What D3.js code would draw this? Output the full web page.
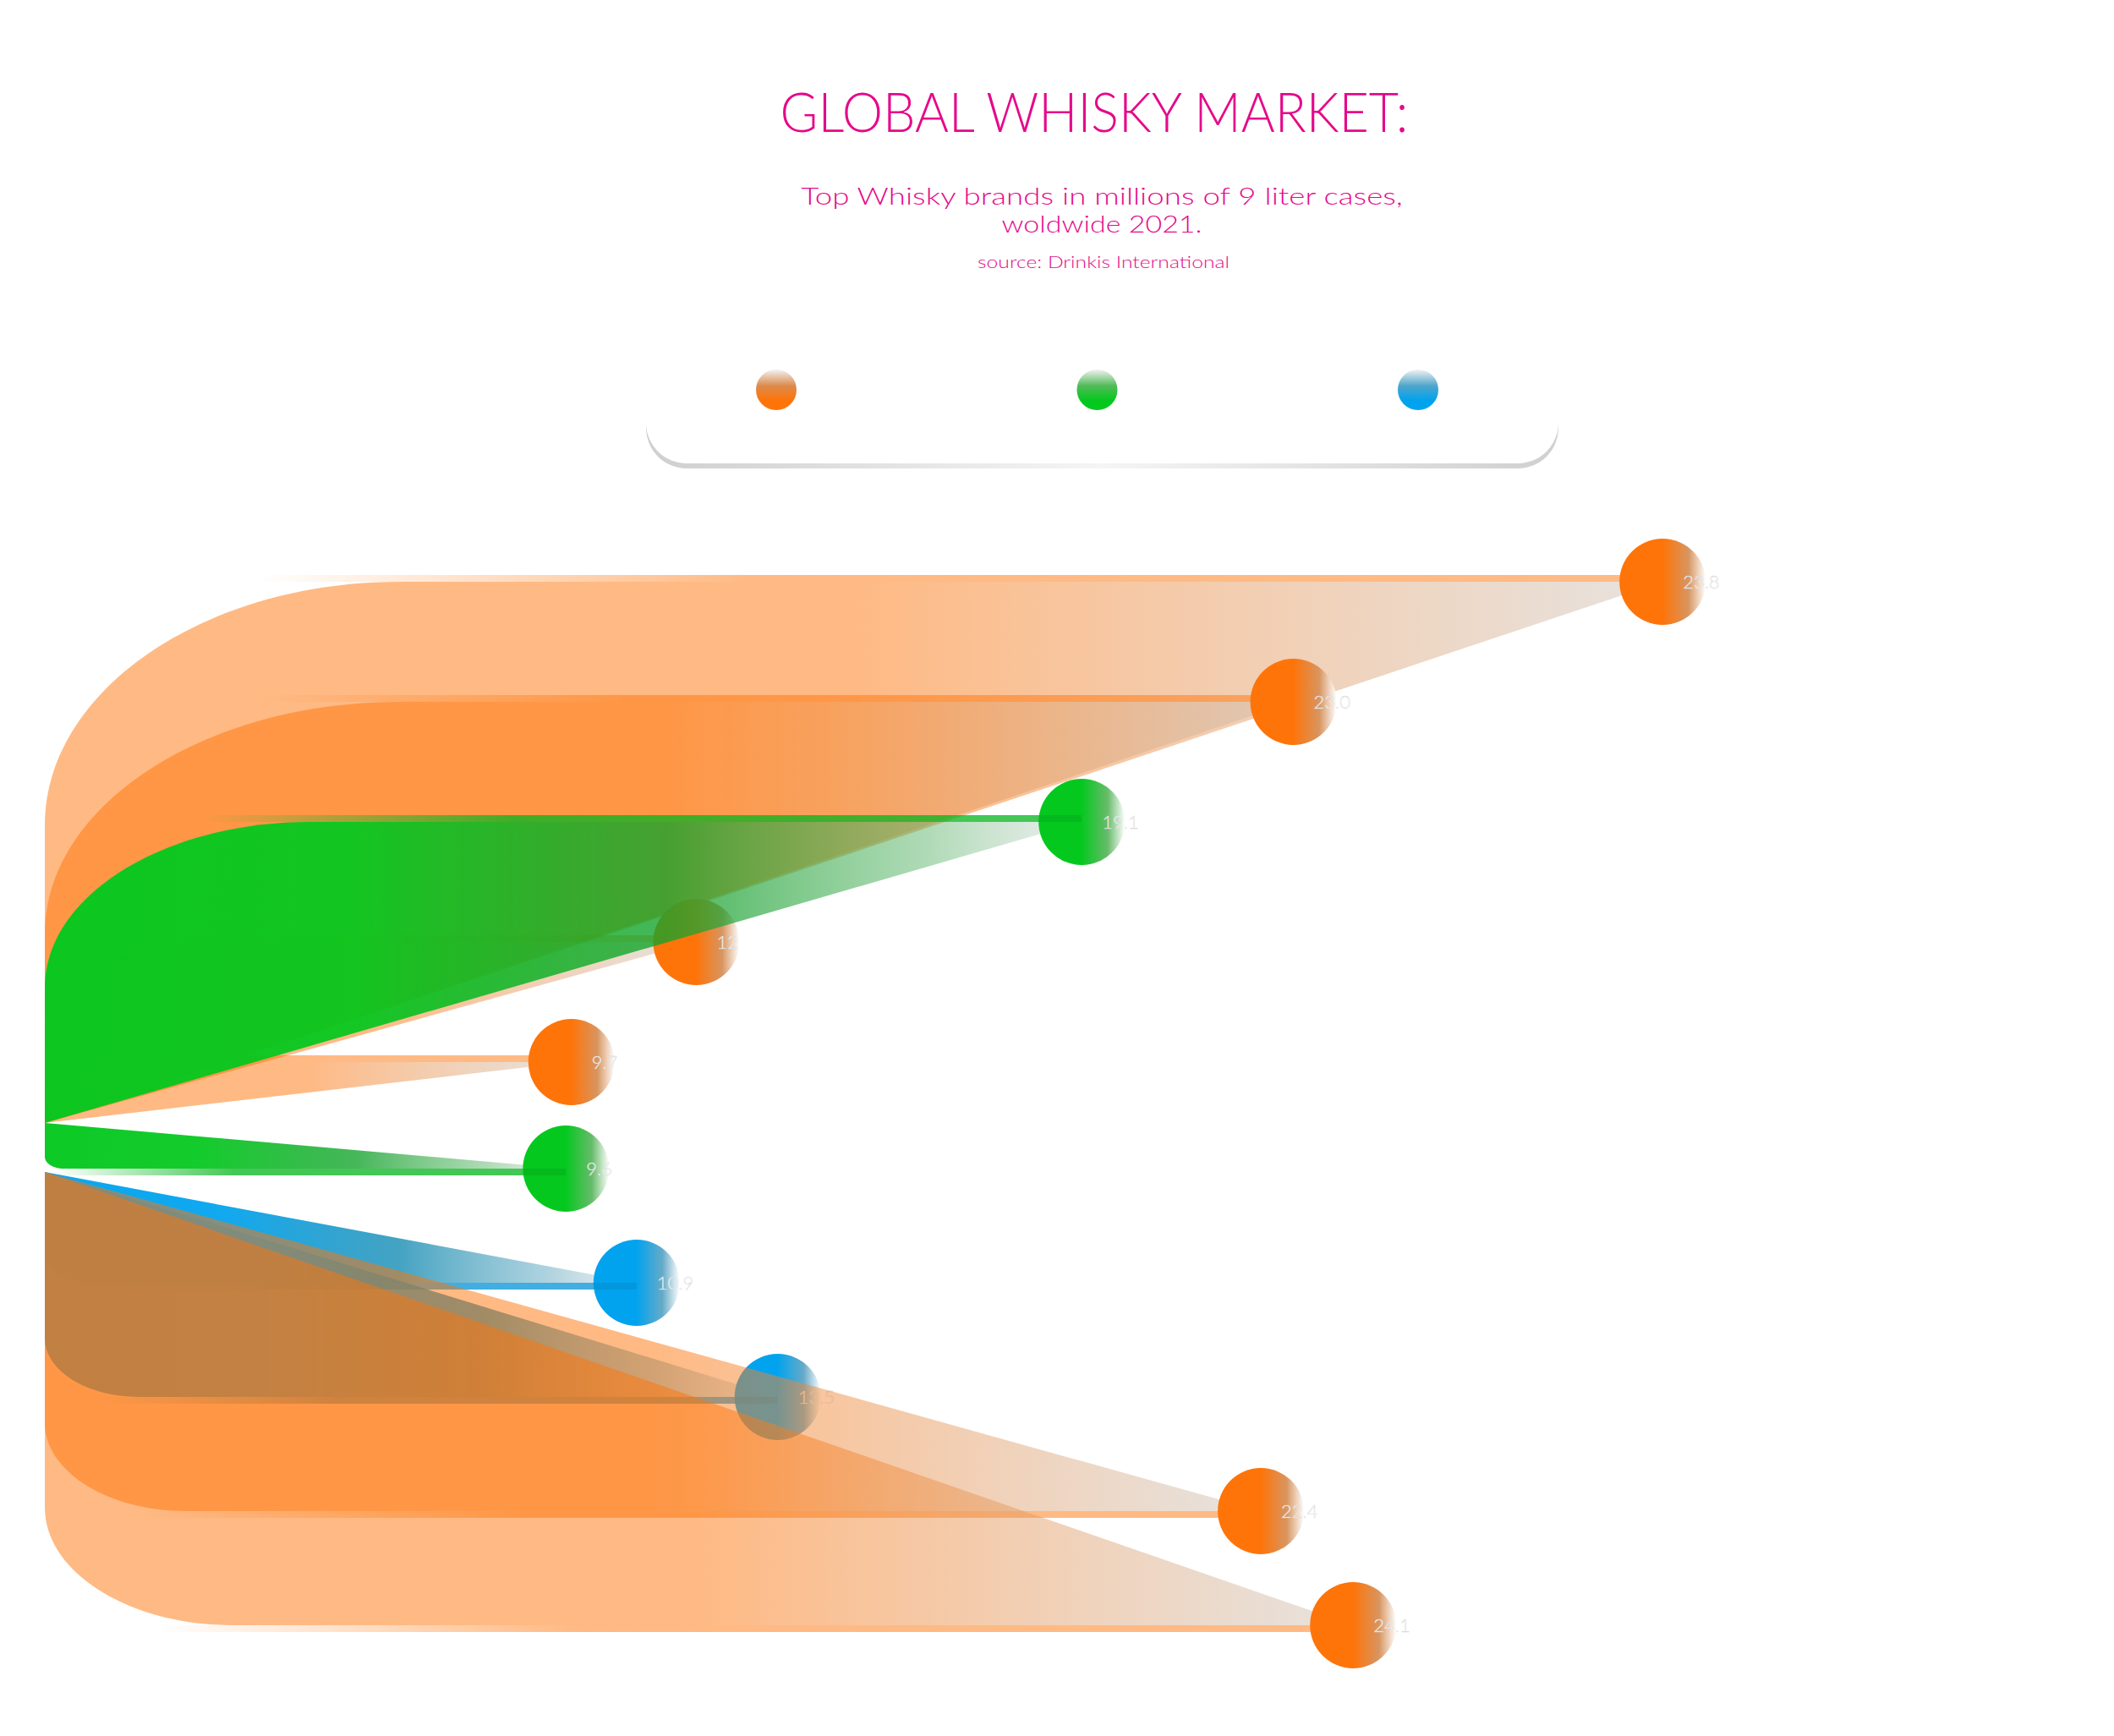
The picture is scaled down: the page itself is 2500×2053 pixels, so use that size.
<!DOCTYPE html>
<html>
<head>
<meta charset="utf-8">
<script src="https://cdn.jsdelivr.net/npm/d3@7/dist/d3.min.js"></script>
<style>
  html, body { margin: 0; padding: 0; background: #fff; }
  svg { display: block; }
</style>
</head>
<body>
<svg width="2500" height="2053"></svg>
<script>
// Data set (millions of 9 liter cases, 2021)
var brands = ["McDowell's", "Officer's Choice", "Johnnie Walker", "Blenders Pride", "Original Choice",
              "Ballantine's", "Jim Beam", "Jack Daniel's", "Imperial Blue", "Royal Stag"];
var groups = ["india", "india", "scotch", "india", "india", "scotch", "usa", "usa", "india", "india"];
var values = [29.8, 23.0, 19.1, 12.0, 9.7, 9.6, 10.9, 13.5, 22.4, 24.1];
var labels = ["23.8", "23.0", "19.1", "12", "9.7", "9.6", "10.9", "13.5", "22.4", "24.1"];
var legendGroups = ["india", "scotch", "usa"];

var colors = { india: "#fe7409", scotch: "#05c81f", usa: "#02a3ee" };
var pink = "#e5098a";

var svg = d3.select("svg");
var defs = svg.append("defs");

// Titles: drawn at natural size, then squeezed to the width of the original lettering
function heading(txt, cx, y, size, width) {
  var t = svg.append("text")
    .attr("x", 0).attr("y", 0)
    .attr("text-anchor", "middle")
    .attr("font-family", "Lato, sans-serif").attr("font-weight", 300)
    .attr("font-size", size).attr("fill", pink)
    .text(txt);
  var w = t.node().getComputedTextLength();
  t.attr("transform", "translate(" + cx + "," + y + ") scale(" + (width / w) + ",1)");
}

heading("GLOBAL WHISKY MARKET:", 1294, 156, 66, 743);
heading("Top Whisky brands in millions of 9 liter cases,", 1303, 242, 27, 712);
heading("woldwide 2021.", 1303, 275, 27, 237);
heading("source: Drinkis International", 1305, 317, 20, 298);

// Legend box: a soft grey strip under the bottom edge only
var shadowGrad = defs.append("linearGradient").attr("id", "legendShadow")
  .attr("x1", 0).attr("y1", 0).attr("x2", 1).attr("y2", 0);
shadowGrad.append("stop").attr("offset", 0).attr("stop-color", "#cfcfcf");
shadowGrad.append("stop").attr("offset", 0.5).attr("stop-color", "#f5f5f5");
shadowGrad.append("stop").attr("offset", 1).attr("stop-color", "#cfcfcf");

svg.append("rect")
  .attr("x", 764).attr("y", 394).attr("width", 1079).attr("height", 160)
  .attr("rx", 48).attr("fill", "url(#legendShadow)");
svg.append("rect")
  .attr("x", 764).attr("y", 388).attr("width", 1079).attr("height", 160)
  .attr("rx", 48).attr("fill", "#fff");

var legendX = d3.scalePoint().domain(legendGroups).range([918, 1677]);

legendGroups.forEach(function(g) {
  var grad = defs.append("linearGradient").attr("id", "leg-" + g)
    .attr("x1", 0).attr("y1", 0).attr("x2", 0).attr("y2", 1);
  grad.append("stop").attr("offset", 0).attr("stop-color", "#f2f2f2");
  grad.append("stop").attr("offset", 0.4).attr("stop-color", d3.interpolateRgb(colors[g], "#b0a8a0")(0.45));
  grad.append("stop").attr("offset", 0.75).attr("stop-color", colors[g]);
  grad.append("stop").attr("offset", 1).attr("stop-color", colors[g]);
});

svg.append("g").selectAll("circle")
  .data(legendGroups)
  .enter()
  .append("circle")
  .attr("cx", function(d) { return legendX(d); })
  .attr("cy", 461)
  .attr("r", 24)
  .attr("fill", function(d) { return "url(#leg-" + d + ")"; });

// Scaling functions
var x0 = 53;          // left edge of the fan
var fanTopY = 1328;   // pivot of upper fan (and first lower item)
var fanLowY = 1386;   // pivot of the remaining lower items

var xScale = d3.scaleLinear()
  .domain([0, 30])
  .range([x0, x0 + 30 * 64.2]);

var upper = brands.slice(0, 5);
var lower = brands.slice(5);
var yUpper = d3.scalePoint().domain(upper).range([688, 1256]);
var yLower = d3.scalePoint().domain(lower).range([1382, 1922]);

function yOf(i) { return i < 5 ? yUpper(brands[i]) : yLower(brands[i]); }
function cxOf(i) { return xScale(values[i]); }

function corner(i) {
  var cy = yOf(i);
  var sy = i < 6 ? fanTopY : fanLowY;
  var dir = cy < sy ? -1 : 1;
  var span = Math.abs(cy - sy);
  var ry = Math.min(span * (dir < 0 ? 0.55 : 0.26), 288);
  var rx = Math.min(ry * 1.6, 420);
  return { sy: sy, dir: dir, rx: rx, ry: ry };
}

// Ribbon: vertical edge from the pivot, rounded corner, horizontal to the dot, straight back
function ribbon(i) {
  var cx = cxOf(i), cy = yOf(i), c = corner(i);
  var k = 0.448;
  var p = d3.path();
  p.moveTo(x0, c.sy);
  p.lineTo(x0, cy - c.dir * c.ry);
  p.bezierCurveTo(x0, cy - c.dir * c.ry * k, x0 + c.rx * k, cy, x0 + c.rx, cy);
  p.lineTo(cx, cy);
  p.closePath();
  return p.toString();
}

function ribbonStops(g) {
  var c = colors[g];
  if (g === "india") {
    return [[0, c, 0.5], [0.5, c, 0.5], [1, "#c9bfb5", 0.45]];
  }
  var dark = d3.interpolateRgb(c, "#2a5a40")(0.35);
  return [[0, c, 0.97], [0.3, c, 0.94], [0.6, dark, 0.78], [0.85, d3.interpolateRgb(c, "#9aa8a0")(0.6), 0.5], [1, "#c8d0cc", 0.35]];
}

function lineColor(i) {
  return groups[i] === "india" ? colors[groups[i]] : d3.color(colors[groups[i]]).darker(0.3).formatHex();
}
function lineOpacity(i) { return groups[i] === "india" ? 0.5 : 0.75; }

brands.forEach(function(b, i) {
  var grad = defs.append("linearGradient").attr("id", "rib" + i)
    .attr("x1", 0).attr("y1", 0).attr("x2", 1).attr("y2", 0);
  ribbonStops(groups[i]).forEach(function(s) {
    grad.append("stop").attr("offset", s[0]).attr("stop-color", s[1]).attr("stop-opacity", s[2]);
  });

  // bar fades in after the rounded corner
  var lg = defs.append("linearGradient").attr("id", "bar" + i)
    .attr("gradientUnits", "userSpaceOnUse")
    .attr("x1", x0 + corner(i).rx * 0.6).attr("y1", 0)
    .attr("x2", cxOf(i)).attr("y2", 0);
  lg.append("stop").attr("offset", 0).attr("stop-color", lineColor(i)).attr("stop-opacity", 0);
  lg.append("stop").attr("offset", 0.35).attr("stop-color", lineColor(i)).attr("stop-opacity", lineOpacity(i));
  lg.append("stop").attr("offset", 1).attr("stop-color", lineColor(i)).attr("stop-opacity", lineOpacity(i));
});

legendGroups.forEach(function(g) {
  var grad = defs.append("linearGradient").attr("id", "dot-" + g)
    .attr("x1", 0).attr("y1", 0).attr("x2", 1).attr("y2", 0);
  grad.append("stop").attr("offset", 0).attr("stop-color", colors[g]);
  grad.append("stop").attr("offset", 0.5).attr("stop-color", colors[g]);
  grad.append("stop").attr("offset", 0.8).attr("stop-color", d3.interpolateRgb(colors[g], "#b8b0a8")(0.55));
  grad.append("stop").attr("offset", 1).attr("stop-color", "#ffffff");
});

// Draw order: blue first, then orange, green on top
var rank = { usa: 0, india: 1, scotch: 2 };
var order = d3.range(brands.length).sort(function(a, b) {
  return rank[groups[a]] - rank[groups[b]] || a - b;
});

var items = svg.append("g").selectAll("g")
  .data(order)
  .enter()
  .append("g");

items.append("path")
  .attr("d", function(i) { return ribbon(i); })
  .attr("fill", function(i) { return "url(#rib" + i + ")"; });

items.append("circle")
  .attr("cx", function(i) { return cxOf(i); })
  .attr("cy", function(i) { return yOf(i); })
  .attr("r", 51)
  .attr("fill", function(i) { return "url(#dot-" + groups[i] + ")"; });

// Thin bar sitting on the outer edge of each ribbon
items.append("rect")
  .attr("x", function(i) { return x0 + corner(i).rx * 0.6; })
  .attr("width", function(i) { return cxOf(i) - x0 - corner(i).rx * 0.6; })
  .attr("y", function(i) { return yOf(i) + (corner(i).dir < 0 ? -8 : 0); })
  .attr("height", 8)
  .attr("fill", function(i) { return "url(#bar" + i + ")"; });

items.append("text")
  .attr("x", function(i) { return cxOf(i) + 24; })
  .attr("y", function(i) { return yOf(i) + 8; })
  .attr("font-family", "Lato, sans-serif")
  .attr("font-weight", 300)
  .attr("font-size", 22)
  .attr("fill", "#fff")
  .attr("stroke", "#d4d4d4")
  .attr("stroke-width", 0.4)
  .text(function(i) { return labels[i]; });
</script>
</body>
</html>
